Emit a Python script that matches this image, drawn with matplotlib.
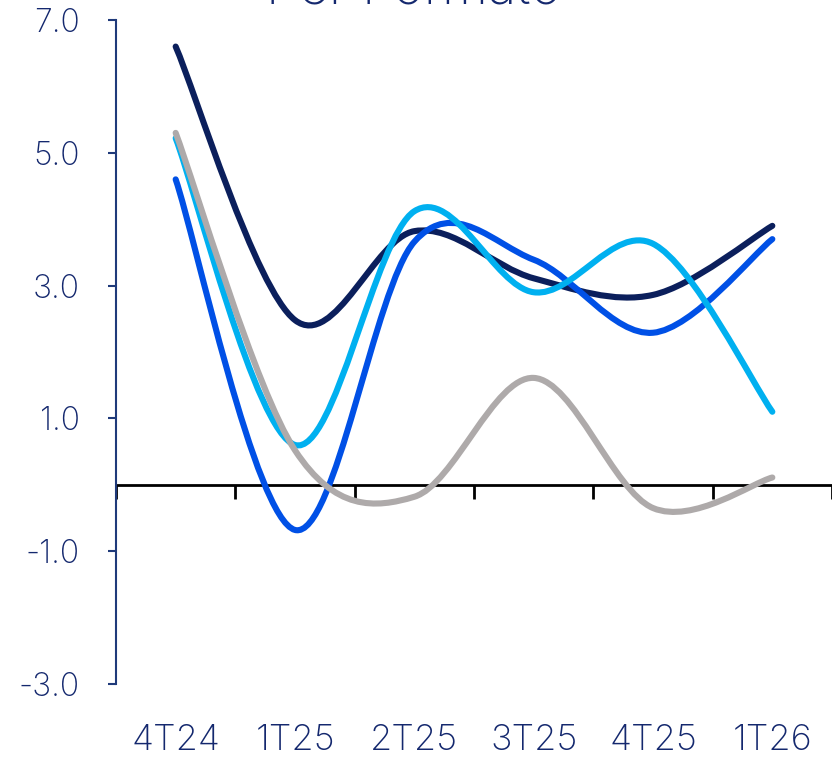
import matplotlib
matplotlib.use("Agg")
import matplotlib.pyplot as plt
from matplotlib.path import Path
from matplotlib.patches import PathPatch
import matplotlib.transforms as mtransforms
import numpy as np

categories = ["4T24", "1T25", "2T25", "3T25", "4T25", "1T26"]
serie_navy = [6.6, 2.48, 3.82, 3.11, 2.86, 3.90]
serie_blue = [4.6, -0.68, 3.66, 3.39, 2.29, 3.70]
serie_light = [5.22, 0.60, 4.12, 2.90, 3.63, 1.10]
serie_gray = [5.30, 0.52, -0.18, 1.61, -0.35, 0.11]
yticks = [-3.0, -1.0, 1.0, 3.0, 5.0, 7.0]
title = "Per Formato"

colors = ["#0b1f5c", "#0050e6", "#00b0f0", "#aeaaaa"]
series = [serie_navy, serie_blue, serie_light, serie_gray]
label_color = "#14286e"

plt.rcParams['font.family'] = ['Inter', 'DejaVu Sans']
plt.rcParams['font.weight'] = 'light'

fig = plt.figure(figsize=(8.32, 7.6), dpi=100)
ax = fig.add_axes([116/832, 76/760, 716/832, 664/760])
ax.set_xlim(-0.5, len(categories) - 0.5)
ax.set_ylim(-3, 7)


def smooth_path(xs, ys):
    pts = np.column_stack([xs, ys]).astype(float)
    n = len(pts)
    verts = [pts[0]]
    codes = [Path.MOVETO]
    for i in range(n - 1):
        p0 = pts[i - 1] if i > 0 else pts[i]
        p1 = pts[i]
        p2 = pts[i + 1]
        p3 = pts[i + 2] if i + 2 < n else pts[i + 1]
        c1 = p1 + (p2 - p0) / 6.0
        c2 = p2 - (p3 - p1) / 6.0
        verts += [c1, c2, p2]
        codes += [Path.CURVE4] * 3
    return Path(verts, codes)


x = np.arange(len(categories))
for s, c in zip(series, colors):
    patch = PathPatch(smooth_path(x, s), facecolor="none", edgecolor=c,
                      lw=4.4, capstyle="round", joinstyle="round", zorder=3)
    ax.add_patch(patch)

# spines
for side in ["top", "right"]:
    ax.spines[side].set_visible(False)
ax.spines["left"].set_color("#1f3a7a")
ax.spines["left"].set_linewidth(1.5)
ax.spines["bottom"].set_position(("data", 0))
ax.spines["bottom"].set_color("black")
ax.spines["bottom"].set_linewidth(2)
ax.spines["bottom"].set_zorder(1)

ax.set_yticks(yticks)
ax.set_yticklabels([f"{v:.1f}" for v in yticks])
ax.tick_params(axis="y", direction="out", length=6, width=1.5, color="#1f3a7a",
               labelsize=23, labelcolor=label_color, pad=20)

ax.set_xticks(np.arange(len(categories) + 1) - 0.5)
ax.set_xticklabels([])
ax.tick_params(axis="x", direction="out", length=10, width=2, color="black")

trans = mtransforms.blended_transform_factory(ax.transData, fig.transFigure)
for i, cat in enumerate(categories):
    ax.text(i, 1 - 740/760, cat, transform=trans, ha="center", va="center",
            fontsize=26, color=label_color, clip_on=False)

fig.text(0.497, 1 - 4/760, title, ha="center", va="baseline",
         fontsize=38, color=label_color)

fig.savefig("out.png", dpi=100)
